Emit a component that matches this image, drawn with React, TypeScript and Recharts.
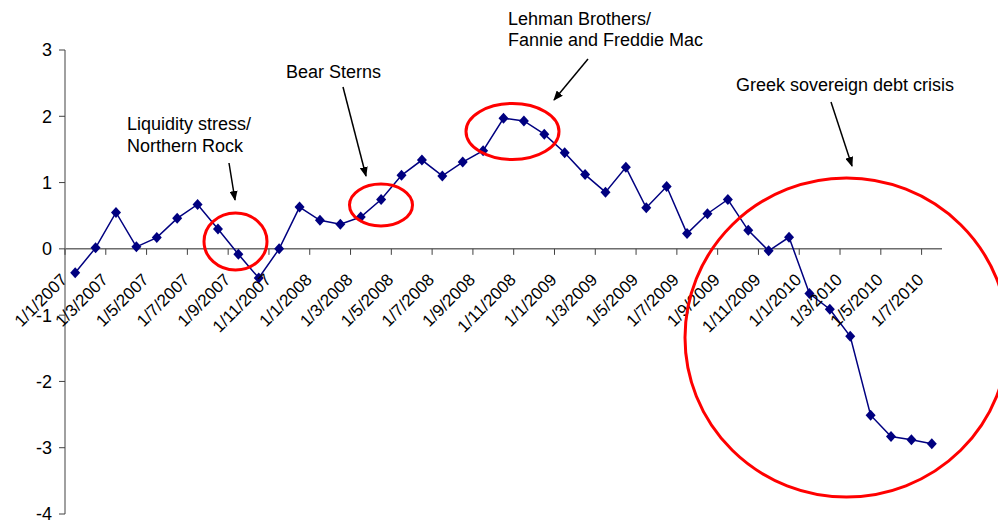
import { LineChart, Line, XAxis, YAxis, ReferenceLine } from 'recharts';

// monthly dates, day/month/year as on the original axis
const dates = [
  '1/1/2007', '1/2/2007', '1/3/2007', '1/4/2007', '1/5/2007', '1/6/2007',
  '1/7/2007', '1/8/2007', '1/9/2007', '1/10/2007', '1/11/2007', '1/12/2007',
  '1/1/2008', '1/2/2008', '1/3/2008', '1/4/2008', '1/5/2008', '1/6/2008',
  '1/7/2008', '1/8/2008', '1/9/2008', '1/10/2008', '1/11/2008', '1/12/2008',
  '1/1/2009', '1/2/2009', '1/3/2009', '1/4/2009', '1/5/2009', '1/6/2009',
  '1/7/2009', '1/8/2009', '1/9/2009', '1/10/2009', '1/11/2009', '1/12/2009',
  '1/1/2010', '1/2/2010', '1/3/2010', '1/4/2010', '1/5/2010', '1/6/2010',
  '1/7/2010',
];

const stressIndex = [
  -0.36, 0.015, 0.55, 0.03, 0.17, 0.46, 0.67, 0.3, -0.08, -0.44, 0.0, 0.63,
  0.43, 0.37, 0.48, 0.745, 1.11, 1.34, 1.1, 1.31, 1.48, 1.97, 1.93, 1.73,
  1.45, 1.12, 0.855, 1.23, 0.62, 0.94, 0.23, 0.53, 0.745, 0.28, -0.03, 0.175,
  -0.675, -0.91, -1.32, -2.51, -2.83, -2.88, -2.94,
];

const yTicks = [-4, -3, -2, -1, 0, 1, 2, 3];

const data = dates.map((d, i) => ({ date: d, value: stressIndex[i] }));

const W = 998;
const H = 523;
const X_AXIS_H = 9;
const M = { top: 50, right: 56, bottom: 0, left: 0 };
const Y_AXIS_W = 65;
const PLOT_W = W - M.left - M.right - Y_AXIS_W;
const PLOT_H = H - M.top - M.bottom - X_AXIS_H;
const ZERO_Y = M.top + (PLOT_H * 3) / 7;
const HALF_BAND = PLOT_W / dates.length / 2;
const FONT = '"Liberation Sans", Arial, sans-serif';

// x axis crosses at zero, so ticks and labels are drawn there
function DateTick(props: any) {
  const { x, payload } = props;
  const tx = x - 7;
  const ty = ZERO_Y + 32;
  return (
    <g>
      <line x1={x - HALF_BAND} y1={ZERO_Y} x2={x - HALF_BAND} y2={ZERO_Y + 6} stroke="#404040" />
      <text
        x={tx}
        y={ty}
        textAnchor="end"
        fontSize={17}
        fill="#000"
        transform={`rotate(-45 ${tx} ${ty})`}
      >
        {payload.value}
      </text>
    </g>
  );
}

function DiamondDot(props: any) {
  const { cx, cy } = props;
  if (cx == null || cy == null) return null;
  const pts = [
    [cx, cy - 5.5],
    [cx + 5, cy],
    [cx, cy + 5.5],
    [cx - 5, cy],
  ]
    .map((p) => p.join(','))
    .join(' ');
  return <polygon key={`d-${props.index}`} points={pts} fill="#000080" />;
}

function Annotations() {
  const txt = { fontSize: 18, fill: '#000', fontFamily: FONT };
  const ring = { fill: 'none', stroke: '#ff0000', strokeWidth: 3 };
  const arrow = { stroke: '#000', strokeWidth: 1.5, markerEnd: 'url(#arrowHead)' };
  return (
    <svg
      width={W}
      height={H}
      style={{ position: 'absolute', left: 0, top: 0, pointerEvents: 'none' }}
    >
      <defs>
        <marker id="arrowHead" markerWidth="10" markerHeight="8" refX="9" refY="4" orient="auto" markerUnits="userSpaceOnUse">
          <polygon points="0,0 10,4 0,8" fill="#000" />
        </marker>
      </defs>

      <text x={127} y={130} {...txt}>Liquidity stress/</text>
      <text x={127} y={152} {...txt}>Northern Rock</text>
      <line x1={229} y1={163} x2={235} y2={200} {...arrow} />
      <ellipse cx={235.5} cy={241.5} rx={31.5} ry={28.5} {...ring} />

      <text x={286} y={78} {...txt}>Bear Sterns</text>
      <line x1={343} y1={87} x2={366} y2={176} {...arrow} />
      <ellipse cx={381} cy={205} rx={31.5} ry={21} {...ring} />

      <text x={508} y={25} {...txt}>Lehman Brothers/</text>
      <text x={508} y={46} {...txt}>Fannie and Freddie Mac</text>
      <line x1={588} y1={59} x2={554} y2={100} {...arrow} />
      <ellipse cx={512.5} cy={131.5} rx={46.5} ry={28} {...ring} />

      <text x={736} y={91} {...txt}>Greek sovereign debt crisis</text>
      <line x1={831} y1={102} x2={852} y2={166} {...arrow} />
      <ellipse cx={846.5} cy={337.5} rx={161.5} ry={159.5} {...ring} />
    </svg>
  );
}

export default function App() {
  return (
    <div style={{ position: 'absolute', left: 0, top: 0, width: W, height: H, fontFamily: FONT, background: '#fff' }}>
      <LineChart width={W} height={H} data={data} margin={M}>
        <XAxis
          dataKey="date"
          height={X_AXIS_H}
          interval={1}
          axisLine={false}
          tickLine={false}
          padding={{ left: HALF_BAND, right: HALF_BAND }}
          tick={<DateTick />}
        />
        <YAxis
          width={Y_AXIS_W}
          domain={[-4, 3]}
          ticks={yTicks}
          interval={0}
          tickSize={6}
          tickMargin={7}
          axisLine={{ stroke: '#808080', strokeWidth: 1.5 }}
          tickLine={{ stroke: '#404040' }}
          tick={{ fill: '#000', fontSize: 18 }}
        />
        <ReferenceLine y={0} stroke="#222" strokeWidth={1} />
        <Line
          type="linear"
          dataKey="value"
          stroke="#000080"
          strokeWidth={1.5}
          dot={<DiamondDot />}
          activeDot={false}
          isAnimationActive={false}
        />
      </LineChart>
      <Annotations />
    </div>
  );
}
